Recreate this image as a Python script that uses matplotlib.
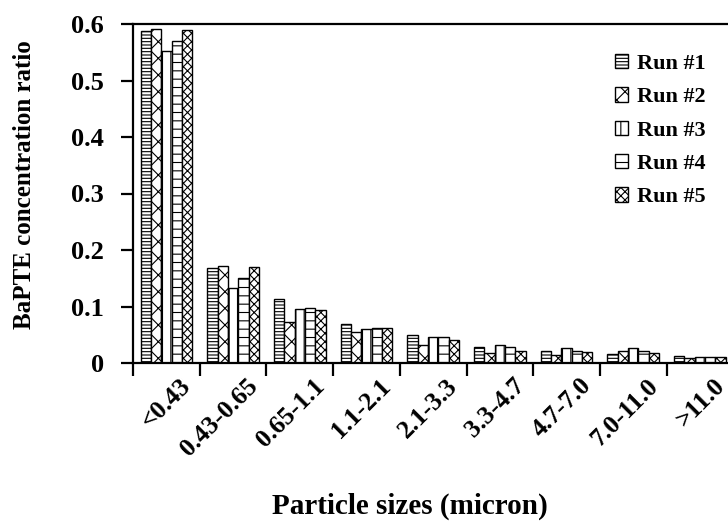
import matplotlib
matplotlib.use("Agg")
import matplotlib.pyplot as plt
import numpy as np
from matplotlib.transforms import ScaledTranslation

plt.rcParams['font.family'] = ['Liberation Serif', 'DejaVu Serif']
plt.rcParams['font.weight'] = 'bold'
plt.rcParams['hatch.linewidth'] = 0.8

categories = ["<0.43", "0.43-0.65", "0.65-1.1", "1.1-2.1", "2.1-3.3",
              "3.3-4.7", "4.7-7.0", "7.0-11.0", ">11.0"]
run1 = [0.588, 0.169, 0.113, 0.069, 0.050, 0.028, 0.022, 0.016, 0.013]
run2 = [0.592, 0.172, 0.073, 0.054, 0.032, 0.018, 0.015, 0.022, 0.008]
run3 = [0.553, 0.132, 0.095, 0.061, 0.046, 0.032, 0.027, 0.026, 0.010]
run4 = [0.570, 0.151, 0.097, 0.062, 0.046, 0.028, 0.022, 0.022, 0.010]
run5 = [0.589, 0.170, 0.093, 0.062, 0.041, 0.022, 0.020, 0.018, 0.010]
series = [run1, run2, run3, run4, run5]
labels = ["Run #1", "Run #2", "Run #3", "Run #4", "Run #5"]
hatches = ['-----', 'xx', '||', '--', 'xxxx']
yticks = [0, 0.1, 0.2, 0.3, 0.4, 0.5, 0.6]
ytick_labels = ["0", "0.1", "0.2", "0.3", "0.4", "0.5", "0.6"]

W, H = 728, 527
fig = plt.figure(figsize=(W/100, H/100), dpi=100)
left, right, top, bottom = 133, 728, 24, 363
ax = fig.add_axes([left/W, 1 - bottom/H, (right-left)/W, (bottom-top)/H])

x = np.arange(len(categories))
bw = 0.155
for i, (vals, lab, h) in enumerate(zip(series, labels, hatches)):
    ax.bar(x + (i - 2) * bw, vals, bw, facecolor='white', edgecolor='black',
           linewidth=1.0, hatch=h, label=lab)

ax.set_xlim(-0.5, 8.42)
ax.set_ylim(0, 0.6)
ax.spines['right'].set_visible(False)
for s in ['left', 'bottom', 'top']:
    ax.spines[s].set_linewidth(1.6)

ax.set_yticks(yticks)
ax.set_yticklabels(ytick_labels, fontsize=19, fontweight='bold')
ax.tick_params(axis='y', direction='out', length=9, width=1.6, pad=12)

ax.set_xticks(np.arange(-0.5, 8.5, 1.0))
ax.set_xticklabels([])
ax.tick_params(axis='x', direction='out', length=9, width=1.6)
ax.set_xticks(x, minor=True)
ax.set_xticklabels(categories, minor=True, rotation=45, ha='right',
                   rotation_mode='anchor', fontsize=18.5, fontweight='bold')
ax.tick_params(axis='x', which='minor', length=0, pad=8)
offset = ScaledTranslation(13/100, 0, fig.dpi_scale_trans)
for lbl in ax.get_xticklabels(minor=True):
    lbl.set_transform(lbl.get_transform() + offset)

fig.text(25/W, 1 - 185/H, "BaPTE concentration ratio", rotation=90,
         ha='center', va='center', fontsize=18, fontweight='bold')
fig.text(410/W, 1 - 506/H, "Particle sizes (micron)", ha='center',
         va='center', fontsize=21, fontweight='bold')

leg = ax.legend(loc='upper right', bbox_to_anchor=(726/W, 1 - 34/H),
                bbox_transform=fig.transFigure, frameon=False,
                prop={'family': 'Liberation Serif', 'weight': 'bold', 'size': 16},
                handlelength=0.6, handleheight=0.6, handletextpad=0.4,
                labelspacing=0.6)

fig.savefig("out.png", dpi=100)
